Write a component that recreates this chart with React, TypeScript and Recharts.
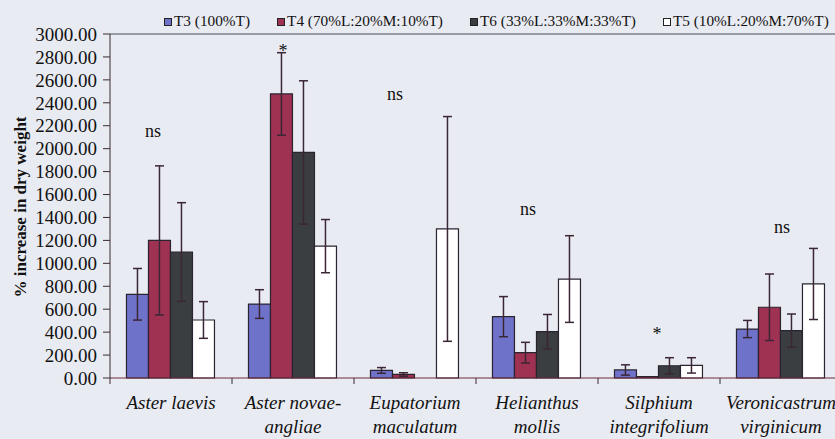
import { Bar, BarChart, ErrorBar, ReferenceDot, ReferenceLine, XAxis, YAxis } from "recharts";

const CATEGORIES = [
    "Aster laevis",
    "Aster novae-angliae",
    "Eupatorium maculatum",
    "Helianthus mollis",
    "Silphium integrifolium",
    "Veronicastrum virginicum",
];
const CATEGORY_LINES = [
    ["Aster laevis"],
    ["Aster novae-", "angliae"],
    ["Eupatorium", "maculatum"],
    ["Helianthus", "mollis"],
    ["Silphium", "integrifolium"],
    ["Veronicastrum", "virginicum"],
];

const T3 = [730, 645, 66, 535, 70, 427];
const T3_ERR = [225, 125, 25, 175, 45, 75];
const T4 = [1200, 2477, 31, 221, 12, 617];
const T4_ERR = [650, 360, 15, 90, null, 290];
const T6 = [1099, 1967, null, 404, 107, 413];
const T6_ERR = [430, 625, null, 150, 70, 145];
const T5 = [506, 1150, 1300, 863, 110, 820];
const T5_ERR = [160, 232, 980, 378, 67, 310];

const SIG_LABELS = ["ns", "*", "ns", "ns", "*", "ns"];
const SIG_HEIGHTS = [2100, 2800, 2425, 1420, 330, 1265];
// small horizontal nudges so the marks sit where they do in the figure
const SIG_NUDGE = [-18, -10, -20, -9, -2, 1];

const Y_TICKS = [0, 200, 400, 600, 800, 1000, 1200, 1400, 1600, 1800, 2000, 2200, 2400, 2600, 2800, 3000];

const SERIES = [
    { key: "t3", err: "t3e", name: "T3 (100%T)", fill: "#6f72c9" },
    { key: "t4", err: "t4e", name: "T4 (70%L:20%M:10%T)", fill: "#9f3152" },
    { key: "t6", err: "t6e", name: "T6 (33%L:33%M:33%T)", fill: "#3a3e40" },
    { key: "t5", err: "t5e", name: "T5 (10%L:20%M:70%T)", fill: "#ffffff" },
];

const data = CATEGORIES.map((name, i) => ({
    name,
    t3: T3[i], t3e: T3_ERR[i],
    t4: T4[i], t4e: T4_ERR[i],
    t6: T6[i], t6e: T6_ERR[i],
    t5: T5[i], t5e: T5_ERR[i],
}));

const FONT = '"Liberation Serif", "Times New Roman", serif';

const CategoryTick = (props: any) => {
    const { x, y, payload } = props;
    const idx = CATEGORIES.indexOf(payload.value);
    const lines = CATEGORY_LINES[idx] || [payload.value];
    const half = payload.offset || 61;
    return (
        <g>
            <line x1={x - half} x2={x - half} y1={y - 8} y2={y - 2} stroke="#3a2a35" strokeWidth={1} />
            <text x={x} y={y} textAnchor="middle" fontFamily={FONT} fontStyle="italic" fontSize={19} fill="#111">
                {lines.map((line, i) => (
                    <tspan key={line} x={x} dy={i === 0 ? 23 : 24}>{line}</tspan>
                ))}
            </text>
        </g>
    );
};

const App = () => {
    return (
        <div style={{ position: "absolute", left: 0, top: 0, width: 835, height: 439, overflow: "hidden", background: "#e9ebf2" }}>
            <div style={{ position: "absolute", left: 164, top: 12, display: "flex", gap: 27, fontFamily: FONT, fontSize: 15.3, color: "#111", whiteSpace: "nowrap" }}>
                {SERIES.map((s) => (
                    <div key={s.key} style={{ display: "flex", alignItems: "center" }}>
                        <span style={{ display: "inline-block", width: 6, height: 6, background: s.fill, border: "1px solid #222", marginRight: 2, marginTop: 1 }} />
                        <span>{s.name}</span>
                    </div>
                ))}
            </div>
            <BarChart
                width={870}
                height={439}
                data={data}
                margin={{ top: 34, right: 28, left: 0, bottom: 0 }}
                barCategoryGap="13.5%"
                barGap={0}
            >
                <XAxis
                    dataKey="name"
                    height={61}
                    interval={0}
                    tickLine={false}
                    stroke="#6e2b3c"
                    tick={<CategoryTick />}
                />
                <YAxis
                    width={110}
                    domain={[0, 3000]}
                    ticks={Y_TICKS}
                    interval={0}
                    tickFormatter={(v: number) => v.toFixed(2)}
                    tickSize={7}
                    tickMargin={6}
                    stroke="#3a2a35"
                    tick={{ fontFamily: FONT, fontSize: 19, fill: "#111" }}
                    label={{
                        content: () => (
                            <text
                                x={20}
                                y={207}
                                transform="rotate(-90, 20, 207)"
                                textAnchor="middle"
                                dominantBaseline="central"
                                fontFamily={FONT}
                                fontWeight="bold"
                                fontSize={17}
                                fill="#111"
                            >
                                % increase in dry weight
                            </text>
                        ),
                    }}
                />
                <ReferenceLine y={3000} stroke="#4a4a58" strokeWidth={1} />
                {SERIES.map((s) => (
                    <Bar
                        key={s.key}
                        dataKey={s.key}
                        name={s.name}
                        fill={s.fill}
                        stroke="#2a2430"
                        strokeWidth={1.2}
                        isAnimationActive={false}
                    >
                        <ErrorBar dataKey={s.err} width={4.5} stroke="#3b2636" strokeWidth={1.5} />
                    </Bar>
                ))}
                {CATEGORIES.map((c, i) => (
                    <ReferenceDot
                        key={c}
                        x={c}
                        y={SIG_HEIGHTS[i]}
                        r={0}
                        stroke="none"
                        fill="none"
                        label={(p: any) => (
                            <text
                                x={(p.viewBox?.x ?? 0) + (p.viewBox?.width ?? 0) / 2 + SIG_NUDGE[i]}
                                y={(p.viewBox?.y ?? 0) + (p.viewBox?.height ?? 0) / 2}
                                textAnchor="middle"
                                fontFamily={FONT}
                                fontSize={18}
                                fill="#111"
                            >
                                {SIG_LABELS[i]}
                            </text>
                        )}
                    />
                ))}
            </BarChart>
        </div>
    );
};

export default App;
